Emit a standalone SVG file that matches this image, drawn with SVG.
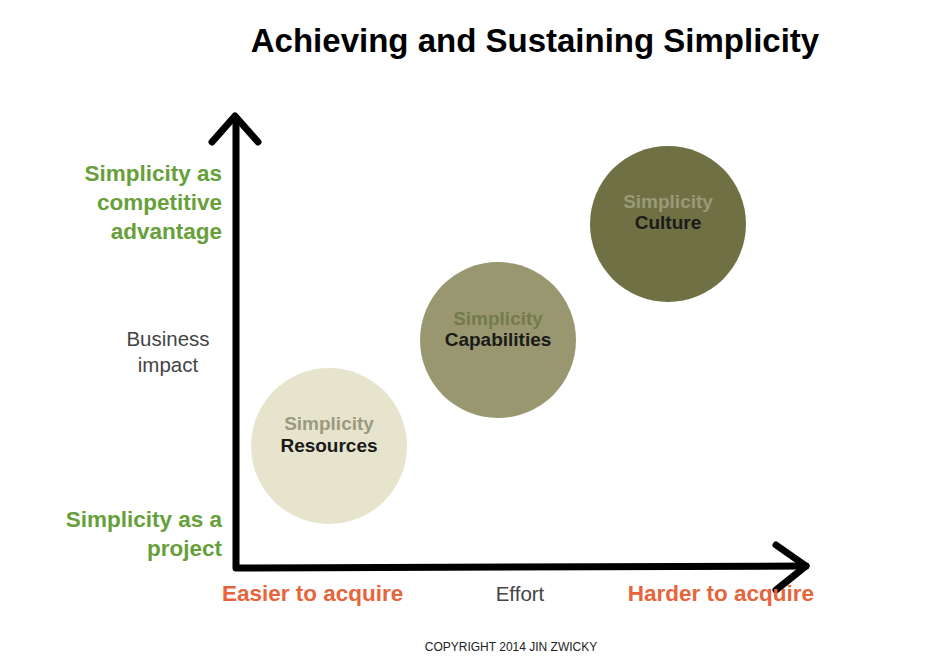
<svg xmlns="http://www.w3.org/2000/svg" width="940" height="659" viewBox="0 0 940 659">
<style>
.t{font-family:"Liberation Sans",Arial,sans-serif}
.g{font-weight:bold;font-size:22.5px;fill:#67a03a;text-anchor:end}
.o{font-weight:bold;font-size:22.5px;fill:#e8643a}
.n{font-size:20.5px;fill:#444}
.s{font-weight:bold;font-size:19px;text-anchor:middle}
.ax{stroke:#000;stroke-width:7;fill:none;stroke-linecap:round;stroke-linejoin:round}
</style>
<rect width="940" height="659" fill="#fff"/>
<text class="t" x="535" y="52" text-anchor="middle" font-size="33" font-weight="bold" fill="#000">Achieving and Sustaining Simplicity</text>
<g id="axes">
<path class="ax" d="M236 118 L236 568 L806 566"/>
<path class="ax" d="M212 142 L235 116 L258 142"/>
<path class="ax" d="M776 545 L806 566 L776 590"/>
</g>
<g id="resources">
<circle cx="329" cy="446" r="78" fill="#e6e4cd"/>
<text class="t s" x="329" y="430" fill="#9b9a80">Simplicity</text>
<text class="t s" x="329" y="452" fill="#1a1a1a">Resources</text>
</g>
<g id="capabilities">
<circle cx="498" cy="340" r="78" fill="#99976f"/>
<text class="t s" x="498" y="325" fill="#737b4a">Simplicity</text>
<text class="t s" x="498" y="346" fill="#1a1a1a">Capabilities</text>
</g>
<g id="culture">
<circle cx="668" cy="224" r="78" fill="#6f7043"/>
<text class="t s" x="668" y="208" fill="#999a78">Simplicity</text>
<text class="t s" x="668" y="229" fill="#1a1a1a">Culture</text>
</g>
<text class="t g" x="222" y="181">Simplicity as</text>
<text class="t g" x="222" y="210">competitive</text>
<text class="t g" x="222" y="239">advantage</text>
<text class="t g" x="222" y="527">Simplicity as a</text>
<text class="t g" x="222" y="556">project</text>
<text class="t n" x="168" y="346" text-anchor="middle">Business</text>
<text class="t n" x="168" y="372" text-anchor="middle">impact</text>
<text class="t o" x="222" y="601">Easier to acquire</text>
<text class="t n" x="520" y="601" text-anchor="middle">Effort</text>
<text class="t o" x="814" y="601" text-anchor="end">Harder to acquire</text>
<text class="t" x="511" y="651" text-anchor="middle" font-size="12" fill="#222">COPYRIGHT 2014 JIN ZWICKY</text>
</svg>
